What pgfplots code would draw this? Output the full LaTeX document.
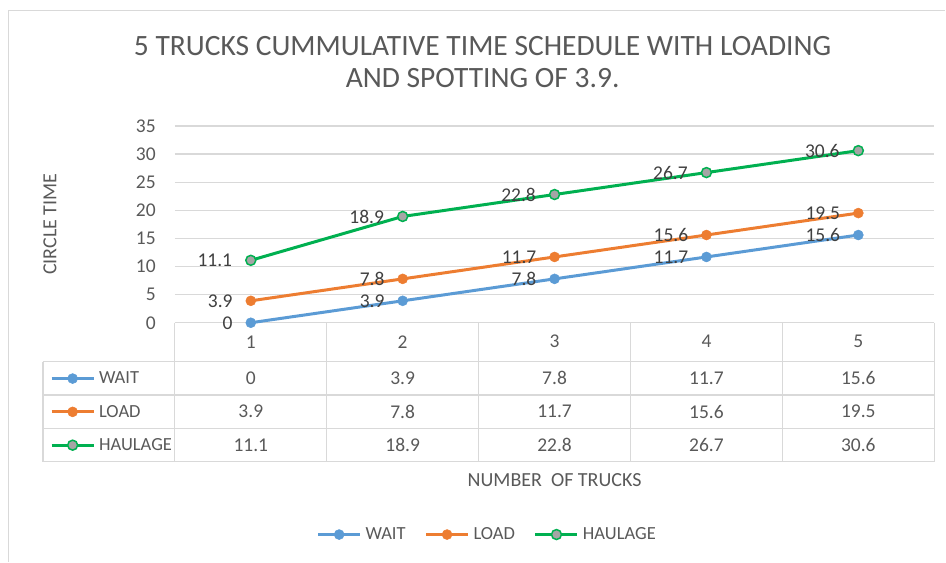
\documentclass[border=0pt]{standalone}
\usepackage{pgfplots}
\pgfplotsset{compat=1.18}
\usepackage{pgfplotstable}
\usepackage{fontspec}
\setmainfont{Carlito}
\definecolor{cblue}{HTML}{5B9BD5}
\definecolor{corange}{HTML}{ED7D31}
\definecolor{cgreen}{HTML}{00B050}
\definecolor{cgray}{HTML}{A5A5A5}
\definecolor{gridgray}{HTML}{D9D9D9}
\definecolor{txtgray}{HTML}{595959}
\definecolor{lblgray}{HTML}{404040}
\newcommand{\lbl}{\fontsize{19.5}{22}\selectfont}
\newcommand{\tkl}{\fontsize{18.5}{22}\selectfont}
\newcommand{\axl}{\fontsize{20}{23}\selectfont}
\newcommand{\ttl}{\fontsize{29.5}{31.5}\selectfont}
\pgfplotstableread{
x wait load haul
1 0 3.9 11.1
2 3.9 7.8 18.9
3 7.8 11.7 22.8
4 11.7 15.6 26.7
5 15.6 19.5 30.6
}\datatable
\pgfplotsset{
  waitstyle/.style={color=cblue, line width=3pt, mark=*, mark size=5pt, mark options={fill=cblue, draw=cblue, line width=0.5pt}},
  loadstyle/.style={color=corange, line width=3pt, mark=*, mark size=5pt, mark options={fill=corange, draw=corange, line width=0.5pt}},
  haulstyle/.style={color=cgreen, line width=3pt, mark=*, mark size=5pt, mark options={fill=cgray, draw=cgreen, line width=1.5pt}},
  mylegimg/.style={legend image code/.code={\draw[mark repeat=2,mark phase=2,##1] plot coordinates {(0pt,0pt) (21pt,0pt) (42pt,0pt)};}},
}
\begin{document}
\begin{tikzpicture}[x=1pt,y=1pt]
\path (0,0) rectangle (946,562);
\draw[gridgray, line width=1.5pt] (8.5,0) -- (8.5,551.5) -- (946,551.5);
\node[align=center, font=\ttl, text=txtgray] at (483,500) {5 TRUCKS CUMMULATIVE TIME SCHEDULE WITH LOADING\\AND SPOTTING OF 3.9.};
\begin{axis}[
  at={(175pt,239pt)}, anchor=south west,
  scale only axis, width=760pt, height=197pt,
  xmin=0.5, xmax=5.5, ymin=0, ymax=35,
  ytick={0,5,...,35}, xtick={1,...,5},
  axis line style={draw=none},
  major tick length=0pt,
  ymajorgrids, grid style={draw=gridgray, line width=1.2pt},
  /pgf/number format/assume math mode=true,
  tick label style={font=\lbl, text=txtgray},
  yticklabel style={inner sep=0pt, xshift=-19pt},
  xticklabel style={anchor=center, inner sep=0pt, yshift=-19pt},
  xlabel={NUMBER\ \ OF TRUCKS},
  ylabel={CIRCLE TIME},
  label style={font=\axl, text=txtgray},
  xlabel style={at={(axis description cs:0.5,-0.797)}, anchor=center},
  ylabel style={at={(axis description cs:-0.1645,0.5)}, anchor=center},
  clip=false,
  nodes near coords,
  every node near coord/.append style={anchor=east, inner sep=0pt, xshift=-18pt, font=\lbl, text=lblgray},
  mylegimg,
  legend columns=3,
  legend style={at={(axis description cs:0.41,-1.076)}, anchor=center, draw=none, fill=none,
    font=\tkl, text=txtgray, nodes={inner sep=0pt},
    /tikz/every odd column/.append style={column sep=4pt},
    /tikz/every even column/.append style={column sep=19pt}},
]
\addplot[waitstyle] table[x=x, y=wait] {\datatable};
\addplot[loadstyle] table[x=x, y=load] {\datatable};
\addplot[haulstyle] table[x=x, y=haul] {\datatable};
\legend{WAIT,LOAD,HAULAGE}
\end{axis}
\begin{axis}[
  at={(43pt,100pt)}, anchor=south west,
  scale only axis, width=132pt, height=100pt,
  xmin=0, xmax=1, ymin=0, ymax=1, hide axis,
  mylegimg,
  legend cell align=left,
  legend style={at={(0.053,1)}, anchor=north west, draw=none, fill=none, inner sep=0pt,
    row sep=0pt, font=\tkl, text=txtgray,
    nodes={minimum height=33.33pt, inner sep=0pt},
    /tikz/column sep=4pt},
]
\addlegendimage{waitstyle}
\addlegendimage{loadstyle}
\addlegendimage{haulstyle}
\legend{WAIT,LOAD,HAULAGE}
\end{axis}
% table grid
\begin{scope}[gridgray, line width=1.2pt]
\draw (175,239) -- (175,100);
\foreach \xx in {327,479,631,783,935} \draw (\xx,239) -- (\xx,100);
\draw (43,200) -- (43,100);
\foreach \yy in {200,166.67,133.33,100} \draw (43,\yy) -- (935,\yy);
\end{scope}
% table values
\foreach \r in {0,...,4} {
  \pgfmathsetmacro{\cx}{251+152*\r}
  \pgfplotstablegetelem{\r}{wait}\of\datatable
  \node[font=\lbl, text=txtgray] at (\cx,183.3) {\pgfplotsretval};
  \pgfplotstablegetelem{\r}{load}\of\datatable
  \node[font=\lbl, text=txtgray] at (\cx,150) {\pgfplotsretval};
  \pgfplotstablegetelem{\r}{haul}\of\datatable
  \node[font=\lbl, text=txtgray] at (\cx,116.7) {\pgfplotsretval};
}
\end{tikzpicture}
\end{document}
